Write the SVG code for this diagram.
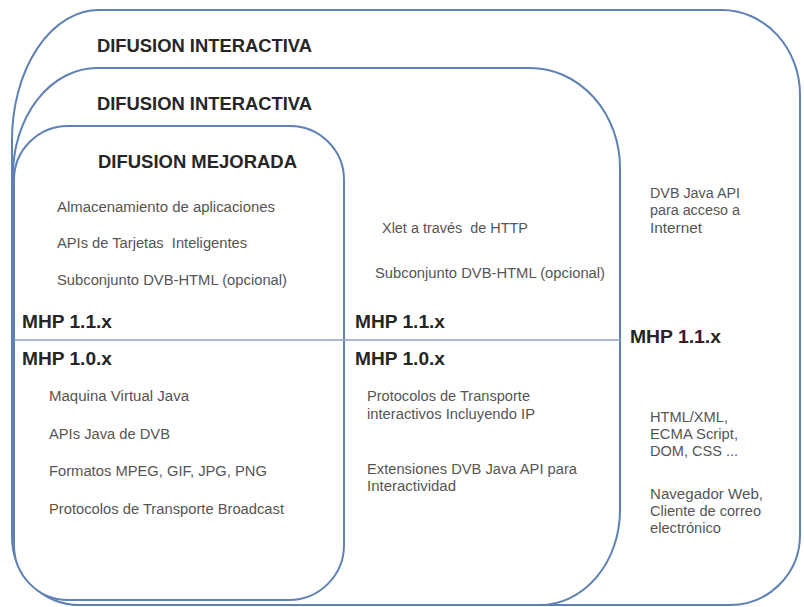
<svg xmlns="http://www.w3.org/2000/svg" width="804" height="607" viewBox="0 0 804 607">
<style>
.box{fill:#ffffff;stroke:#5f82b6;stroke-width:2}
.div{stroke:#8da3c5;stroke-width:1.5;fill:none}
.h{font-family:"Liberation Sans",Arial,sans-serif;font-weight:bold;font-size:18px;fill:#262626}
.t{font-family:"Liberation Sans",Arial,sans-serif;font-size:14px;fill:#555555}
</style>
<rect width="804" height="607" fill="#ffffff"/>
<g id="outer">
<path class="box" d="M 12 140 A 87 130 0 0 1 99 10 L 722 10 A 78 85 0 0 1 800 95 L 800 535 A 70 70 0 0 1 730 605 L 80 605 A 68 68 0 0 1 12 537 Z"/>
<text class="h" x="97" y="52" textLength="215" lengthAdjust="spacingAndGlyphs">DIFUSION INTERACTIVA</text>
<text class="t" x="650" y="198" textLength="90" lengthAdjust="spacingAndGlyphs">DVB Java API</text>
<text class="t" x="650" y="215" textLength="90" lengthAdjust="spacingAndGlyphs">para acceso a</text>
<text class="t" x="650" y="233" textLength="52" lengthAdjust="spacingAndGlyphs">Internet</text>
<text class="h" x="630" y="343" textLength="91" lengthAdjust="spacingAndGlyphs">MHP 1.1.x</text>
<text class="t" x="650" y="422" textLength="78" lengthAdjust="spacingAndGlyphs">HTML/XML,</text>
<text class="t" x="650" y="439" textLength="88" lengthAdjust="spacingAndGlyphs">ECMA Script,</text>
<text class="t" x="650" y="456" textLength="88" lengthAdjust="spacingAndGlyphs">DOM, CSS ...</text>
<text class="t" x="650" y="499" textLength="113" lengthAdjust="spacingAndGlyphs">Navegador Web,</text>
<text class="t" x="650" y="516" textLength="111" lengthAdjust="spacingAndGlyphs">Cliente de correo</text>
<text class="t" x="650" y="533" textLength="71" lengthAdjust="spacingAndGlyphs">electrónico</text>
</g>
<g id="middle">
<path class="box" d="M 13 175 A 84 107 0 0 1 97 68 L 530 68 A 90 100 0 0 1 620 168 L 620 510 A 80 95 0 0 1 540 605 L 80 605 A 67 67 0 0 1 13 538 Z"/>
<text class="h" x="97" y="110" textLength="215" lengthAdjust="spacingAndGlyphs">DIFUSION INTERACTIVA</text>
<text class="t" x="382" y="233" textLength="146" lengthAdjust="spacingAndGlyphs" xml:space="preserve">Xlet a través  de HTTP</text>
<text class="t" x="375" y="278" textLength="230" lengthAdjust="spacingAndGlyphs">Subconjunto DVB-HTML (opcional)</text>
<text class="h" x="355" y="328" textLength="90" lengthAdjust="spacingAndGlyphs">MHP 1.1.x</text>
<text class="h" x="355" y="365" textLength="90" lengthAdjust="spacingAndGlyphs">MHP 1.0.x</text>
<text class="t" x="367" y="401" textLength="163" lengthAdjust="spacingAndGlyphs">Protocolos de Transporte</text>
<text class="t" x="367" y="419" textLength="168" lengthAdjust="spacingAndGlyphs">interactivos Incluyendo IP</text>
<text class="t" x="367" y="474" textLength="210" lengthAdjust="spacingAndGlyphs">Extensiones DVB Java API para</text>
<text class="t" x="367" y="491" textLength="89" lengthAdjust="spacingAndGlyphs">Interactividad</text>
</g>
<g id="inner">
<path class="box" d="M 14 180 A 54 54 0 0 1 68 126 L 290 126 A 54 54 0 0 1 344 180 L 344 545 A 55 55 0 0 1 289 600 L 68 600 A 54 55 0 0 1 14 545 Z"/>
<text class="h" x="98" y="168" textLength="199" lengthAdjust="spacingAndGlyphs">DIFUSION MEJORADA</text>
<text class="t" x="57" y="212" textLength="218" lengthAdjust="spacingAndGlyphs">Almacenamiento de aplicaciones</text>
<text class="t" x="57" y="248" textLength="190" lengthAdjust="spacingAndGlyphs" xml:space="preserve">APIs de Tarjetas  Inteligentes</text>
<text class="t" x="57" y="285" textLength="230" lengthAdjust="spacingAndGlyphs">Subconjunto DVB-HTML (opcional)</text>
<text class="h" x="22" y="328" textLength="90" lengthAdjust="spacingAndGlyphs">MHP 1.1.x</text>
<text class="h" x="22" y="365" textLength="90" lengthAdjust="spacingAndGlyphs">MHP 1.0.x</text>
<text class="t" x="49" y="401" textLength="140" lengthAdjust="spacingAndGlyphs">Maquina Virtual Java</text>
<text class="t" x="49" y="439" textLength="121" lengthAdjust="spacingAndGlyphs">APIs Java de DVB</text>
<text class="t" x="49" y="476" textLength="218" lengthAdjust="spacingAndGlyphs">Formatos MPEG, GIF, JPG, PNG</text>
<text class="t" x="49" y="514" textLength="235" lengthAdjust="spacingAndGlyphs">Protocolos de Transporte Broadcast</text>
</g>
<g id="connectors">
<line class="div" x1="14" y1="340" x2="620" y2="340"/>
</g>
</svg>
